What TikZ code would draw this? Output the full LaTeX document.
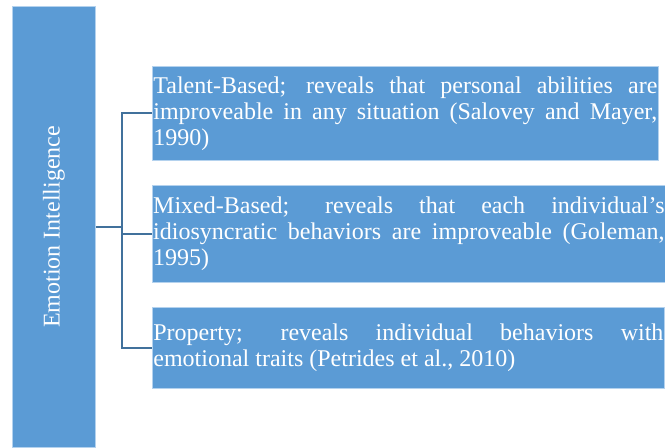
\documentclass[tikz,border=0pt]{standalone}
\usepackage{fontspec}
\setmainfont{Liberation Serif}
\usepackage{tikz}
\usetikzlibrary{positioning,calc}
\definecolor{boxblue}{RGB}{91,155,213}
\definecolor{edgeblue}{RGB}{180,210,238}
\definecolor{linkblue}{RGB}{65,113,156}
\begin{document}
\begin{tikzpicture}[x=0.75pt,y=-0.75pt,
  bluebox/.style={fill=boxblue,draw=edgeblue,line width=0.6pt,text=white,inner xsep=0.6pt,inner ysep=0pt,
    font=\fontsize{18}{19.5}\selectfont,align=justify,anchor=north west},
  conn/.style={draw=linkblue,line width=1.6pt}]
\useasboundingbox (0,0) rectangle (665,447);
\node[bluebox,align=center,minimum width=62.25pt,minimum height=330.75pt,inner xsep=0pt] (emotion) at (12,6) {};
\node[rotate=90,text=white,font=\fontsize{18}{19.5}\selectfont] (emolabel) at (emotion.center) {Emotion Intelligence};
\node[bluebox,minimum width=379.5pt,minimum height=70.5pt,text width=378pt] (talent) at (152,66) {\hyphenpenalty=10000
Talent-Based; reveals that personal abilities are\linebreak improveable in any situation (Salovey and Mayer,\linebreak 1990)};
\node[bluebox,minimum width=384.75pt,minimum height=72.75pt,text width=383.5pt] (mixed) at (152,185) {\hyphenpenalty=10000
Mixed-Based; reveals that each individual's\linebreak idiosyncratic behaviors are improveable (Goleman,\linebreak 1995)};
\node[bluebox,minimum width=384pt,minimum height=60.75pt,text width=382.5pt] (property) at (152,307) {\hyphenpenalty=10000
Property; reveals individual behaviors with\linebreak emotional traits (Petrides et al., 2010)};
\coordinate (fork) at (122,0);
\draw[conn] (talent.west) -- (talent.west -| fork) -- (property.west -| fork) -- (property.west);
\draw[conn] (emotion.east) -- (emotion.east -| fork);
\draw[conn] (mixed.west) -- (mixed.west -| fork);
\end{tikzpicture}
\end{document}
